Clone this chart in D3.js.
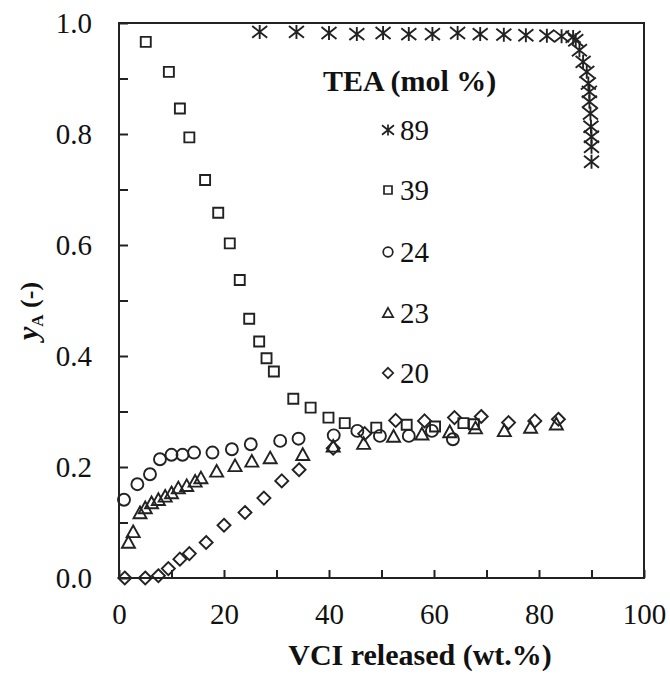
<!DOCTYPE html>
<html>
<head>
<meta charset="utf-8">
<script src="https://cdn.jsdelivr.net/npm/d3@7"></script>
<style>
  body { margin: 0; background: #fff; }
  text { font-family: "Liberation Serif", "Times New Roman", serif; fill: #111; }
</style>
</head>
<body>
<svg id="chart" width="670" height="679"></svg>
<script>
// TEA (mol %) series, [VCI released wt.%, yA]
const tea89 = [[26.8,0.984],[33.8,0.984],[40.0,0.982],[45.3,0.980],[50.3,0.982],[55.2,0.980],[59.7,0.980],
  [64.5,0.982],[68.8,0.980],[73.3,0.979],[77.5,0.978],[81.5,0.977],[84.3,0.976],[86.5,0.975],[87.0,0.969],
  [87.7,0.951],[88.4,0.930],[89.1,0.912],[89.4,0.891],[89.6,0.876],[89.6,0.858],[89.8,0.837],[89.9,0.813],
  [90.0,0.795],[90.0,0.777],[90.0,0.750]];
const tea39 = [[5.1,0.966],[9.5,0.912],[11.6,0.846],[13.4,0.794],[16.4,0.717],[18.9,0.658],[21.1,0.603],
  [23.0,0.537],[24.8,0.467],[26.7,0.426],[28.1,0.396],[29.5,0.372],[33.2,0.323],[36.5,0.307],[39.9,0.289],
  [43.0,0.279],[49.0,0.271],[54.8,0.276],[60.2,0.273],[65.6,0.279],[67.6,0.277]];
const tea24 = [[0.95,0.141],[3.5,0.169],[5.9,0.187],[7.8,0.214],[10.0,0.222],[12.1,0.222],[14.3,0.226],
  [17.8,0.226],[21.5,0.232],[25.1,0.241],[30.7,0.247],[34.2,0.251],[40.9,0.257],[45.4,0.265],[49.7,0.256],
  [55.2,0.256],[59.6,0.265],[63.6,0.250]];
const tea23 = [[1.8,0.064],[2.7,0.083],[4.0,0.117],[5.0,0.126],[6.2,0.135],[7.5,0.141],[8.8,0.147],
  [10.0,0.153],[11.3,0.162],[12.9,0.166],[14.5,0.174],[15.6,0.180],[18.6,0.192],[22.1,0.202],[25.3,0.210],
  [28.8,0.216],[35.0,0.222],[40.8,0.237],[46.6,0.242],[52.3,0.255],[57.7,0.259],[63.0,0.263],[67.9,0.270],
  [73.4,0.265],[78.4,0.271],[83.3,0.277]];
const tea20 = [[1.1,0.0],[5.0,0.0],[7.5,0.004],[9.4,0.017],[11.6,0.034],[13.4,0.044],[16.6,0.064],
  [20.0,0.095],[24.0,0.118],[27.6,0.144],[31.0,0.175],[34.3,0.195],[40.8,0.234],[46.8,0.260],[52.7,0.284],
  [58.2,0.283],[63.9,0.289],[69.0,0.291],[74.2,0.280],[79.2,0.283],[83.7,0.286]];

const seriesNames = ["89", "39", "24", "23", "20"];
const seriesData = [tea89, tea39, tea24, tea23, tea20];
const seriesShapes = ["star", "square", "circle", "triangle", "diamond"];

const xTicks = [0, 10, 20, 30, 40, 50, 60, 70, 80, 90, 100];
const yTicks = [0, 0.1, 0.2, 0.3, 0.4, 0.5, 0.6, 0.7, 0.8, 0.9, 1.0];

const svg = d3.select("#chart");
const x = d3.scaleLinear().domain([0, 100]).range([119, 644]);
const y = d3.scaleLinear().domain([0, 1]).range([578, 23]);

// marker paths, s = scale factor
function shapePath(shape, s) {
  const k = s || 1;
  if (shape == "square") { const h = 5 * k; return `M${-h},${-h}H${h}V${h}H${-h}Z`; }
  if (shape == "circle") { const r = 6 * k; return `M${r},0A${r},${r} 0 1,1 ${-r},0A${r},${r} 0 1,1 ${r},0Z`; }
  if (shape == "triangle") { const h = 6.5 * k; return `M0,${-h}L${h},${h*0.8}H${-h}Z`; }
  if (shape == "diamond") { const h = 6.5 * k; return `M0,${-h}L${h},0L0,${h}L${-h},0Z`; }
  const h = 7 * k, w = 7.5 * k;
  return `M0,${-h}V${h}M${-w},${-h*0.85}L${w},${h*0.85}M${-w},${h*0.85}L${w},${-h*0.85}`;
}

// axes with inside ticks
const xAxis = svg.append("g")
  .attr("transform", `translate(0,${y(0)})`)
  .call(d3.axisBottom(x).tickValues(xTicks).tickSize(-8).tickPadding(25)
    .tickFormat(d => d % 20 === 0 ? d : ""));
const yAxis = svg.append("g")
  .attr("transform", `translate(${x(0)},0)`)
  .call(d3.axisLeft(y).tickValues(yTicks).tickSize(-9).tickPadding(27)
    .tickFormat(d => Math.round(d * 10) % 2 === 0 ? d.toFixed(1) : ""));

[xAxis, yAxis].forEach(a => {
  a.select(".domain").remove();
  a.selectAll("line").attr("stroke", "#222").attr("stroke-width", 2);
  a.selectAll("text").style("font-size", "29px").attr("fill", "#111");
});

// frame
svg.append("rect")
  .attr("x", x(0)).attr("y", y(1))
  .attr("width", x(100) - x(0)).attr("height", y(0) - y(1))
  .attr("fill", "none").attr("stroke", "#222").attr("stroke-width", 2);

// points
seriesData.forEach((data, i) => {
  svg.append("g").selectAll("path")
    .data(data)
    .enter()
    .append("path")
    .attr("transform", d => `translate(${x(d[0])},${y(d[1])})`)
    .attr("d", shapePath(seriesShapes[i]))
    .attr("fill", "none")
    .attr("stroke", "#222")
    .attr("stroke-width", 1.9);
});

// legend
svg.append("text")
  .attr("x", 323).attr("y", 91)
  .style("font-size", "30px").style("font-weight", "bold")
  .text("TEA (mol %)");

const legendY = [130, 190, 252, 313, 373];
seriesNames.forEach((name, i) => {
  svg.append("path")
    .attr("transform", `translate(388,${legendY[i]})`)
    .attr("d", shapePath(seriesShapes[i], 0.8))
    .attr("fill", "none").attr("stroke", "#222").attr("stroke-width", 1.7);
  svg.append("text")
    .attr("x", 400).attr("y", legendY[i] + 10)
    .style("font-size", "29px")
    .text(name);
});

// axis titles
svg.append("text")
  .attr("x", 420).attr("y", 665)
  .attr("text-anchor", "middle")
  .style("font-size", "30px").style("font-weight", "bold")
  .text("VCI released (wt.%)");

const yTitle = svg.append("text")
  .attr("transform", "translate(38,311) rotate(-90)")
  .attr("text-anchor", "middle")
  .style("font-weight", "bold");
yTitle.append("tspan").style("font-size", "30px").style("font-style", "italic").text("y");
yTitle.append("tspan").style("font-size", "17px").attr("dy", 5).text("A");
yTitle.append("tspan").style("font-size", "26px").attr("dy", -5).text(" (-)");
</script>
</body>
</html>
